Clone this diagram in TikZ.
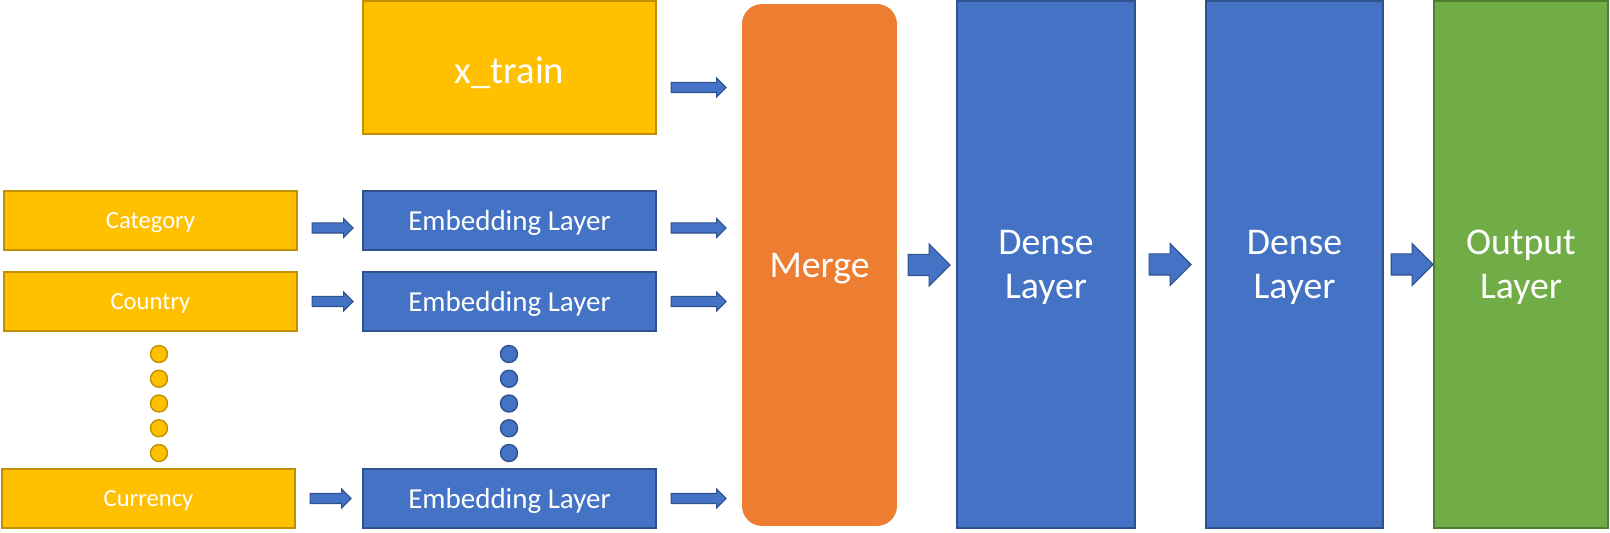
\documentclass[tikz,border=0pt]{standalone}
\usepackage{fontspec}
\setmainfont{Carlito}
\usetikzlibrary{shapes.arrows,calc}

\definecolor{inyellow}{HTML}{FFC000}
\definecolor{inyellowline}{HTML}{BF9000}
\definecolor{layblue}{HTML}{4472C4}
\definecolor{layblueline}{HTML}{2F528F}
\definecolor{mergeorange}{HTML}{ED7D31}
\definecolor{outgreen}{HTML}{70AD47}
\definecolor{outgreenline}{HTML}{507E32}

\begin{document}
\begin{tikzpicture}[x=0.02cm, y=-0.02cm,
  inbox/.style={rectangle, fill=inyellow, draw=inyellowline, line width=0.8pt,
    text=white, minimum width=5.86cm, minimum height=1.18cm, inner sep=0pt,
    text depth=0pt, font=\fontsize{14}{17}\selectfont},
  embbox/.style={inbox, fill=layblue, draw=layblueline,
    font=\fontsize{16.5}{20}\selectfont},
  layerbox/.style={rectangle, fill=layblue, draw=layblueline, line width=0.8pt,
    text=white, minimum height=10.54cm, inner sep=0pt, align=center,
    text depth=0pt, font=\fontsize{21.5}{25}\selectfont},
  mydot/.style={circle, inner sep=0pt, minimum size=0.34cm, line width=0.8pt},
  smallarrow/.style={single arrow, anchor=tail, fill=layblue, draw=layblueline,
    line width=0.6pt, inner sep=0.09cm, single arrow head extend=0.09cm,
    minimum height=1.1cm},
  bigarrow/.style={smallarrow, inner sep=0.2cm, single arrow head extend=0.21cm,
    minimum height=0.84cm}]
\useasboundingbox (0,0) rectangle (1610,533);

%inputs
  \node[inbox] (cat) at (150.5,220.5) {Category};
  \node[inbox] (country) at (150.5,301.5) {Country};
  \node[inbox] (curr) at (148.5,498.5) {Currency};
  \node[inbox, minimum height=2.66cm, text height=0.64cm,
    font=\fontsize{22}{26}\selectfont] (xtrain) at (509.5,67.5) {x\_train};

%embeddings
  \node[embbox] (emb1) at (509.5,220.5) {Embedding Layer};
  \node[embbox] (emb2) at (509.5,301.5) {Embedding Layer};
  \node[embbox] (emb3) at (509.5,498.5) {Embedding Layer};

%dots
  \foreach \i in {0,...,4} {
    \node[mydot, fill=inyellow, draw=inyellowline] (ydot\i) at (159,354+24.75*\i) {};
    \node[mydot, fill=layblue, draw=layblueline] (bdot\i) at (509,354+24.75*\i) {};
  }

%layers
  \node[layerbox, fill=mergeorange, draw=none, rounded corners=0.4cm, minimum width=3.1cm,
    minimum height=10.44cm] (merge) at (819.5,265) {Merge};
  \node[layerbox, minimum width=3.56cm] (dense1) at (1046,264.5) {Dense\\Layer};
  \node[layerbox, minimum width=3.54cm] (dense2) at (1294.5,264.5) {Dense\\Layer};
  \node[layerbox, fill=outgreen, draw=outgreenline, minimum width=3.48cm] (out) at (1521,264.5) {Output\\Layer};

%arrows
  \node[smallarrow, minimum height=0.82cm] (c1) at ([xshift=0.28cm, yshift=-0.15cm]cat.east) {};
  \node[smallarrow, minimum height=0.82cm] (c2) at ([xshift=0.28cm]country.east) {};
  \node[smallarrow, minimum height=0.82cm] (c3) at ([xshift=0.28cm]curr.east) {};
  \node[smallarrow] (m0) at ([xshift=0.28cm, yshift=-0.4cm]xtrain.east) {};
  \node[smallarrow] (m1) at ([xshift=0.28cm, yshift=-0.15cm]emb1.east) {};
  \node[smallarrow] (m2) at ([xshift=0.28cm]emb2.east) {};
  \node[smallarrow] (m3) at ([xshift=0.28cm]emb3.east) {};
  \node[bigarrow] (b1) at ([xshift=0.2cm]merge.east) {};
  \node[bigarrow] (b2) at ([xshift=0.26cm]dense1.east) {};
  \node[bigarrow] (b3) at ([xshift=0.14cm]dense2.east) {};
\end{tikzpicture}
\end{document}
